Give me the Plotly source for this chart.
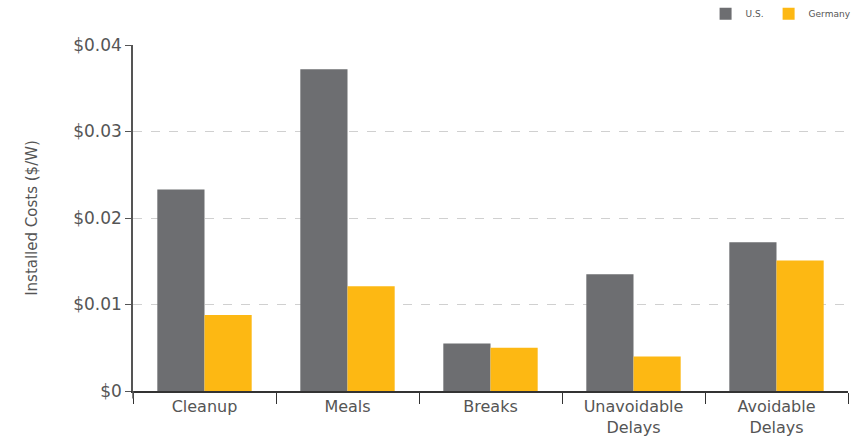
import plotly.graph_objects as go

categories = ["Cleanup", "Meals", "Breaks", "Unavoidable<br>Delays", "Avoidable<br>Delays"]
us_values = [0.0233, 0.0372, 0.0055, 0.0135, 0.0172]
germany_values = [0.0088, 0.0121, 0.0050, 0.0040, 0.0151]
y_ticks = [0, 0.01, 0.02, 0.03, 0.04]
y_tick_labels = ["$0", "$0.01", "$0.02", "$0.03", "$0.04"]

fig = go.Figure()
fig.add_trace(go.Bar(name="U.S.", x=categories, y=us_values,
                     marker=dict(color="#6d6e71", line=dict(width=0))))
fig.add_trace(go.Bar(name="Germany", x=categories, y=germany_values,
                     marker=dict(color="#fdb813", line=dict(width=0))))

fig.update_layout(
    width=859, height=443,
    margin=dict(l=133, r=11, t=45, b=52, autoexpand=False),
    paper_bgcolor="white", plot_bgcolor="white",
    barmode="group", bargap=0.34, bargroupgap=0,
    font=dict(family="DejaVu Sans, sans-serif", color="#555555"),
    legend=dict(orientation="h", x=1.012, xanchor="right", y=1.09, yanchor="middle",
                font=dict(size=9, color="#555555"),
                bgcolor="rgba(0,0,0,0)"),
    xaxis=dict(showline=True, linecolor="#333333", linewidth=1.5,
               ticks="outside", tickson="boundaries", ticklen=11, tickcolor="#333333",
               tickfont=dict(size=16, color="#555555"), showgrid=False),
    yaxis=dict(range=[0, 0.04], tickvals=y_ticks, ticktext=y_tick_labels,
               showline=True, linecolor="#555555", linewidth=1.5,
               ticks="outside", ticklen=6, tickcolor="#555555",
               tickfont=dict(size=17, color="#555555"),
               showgrid=True, gridcolor="#d0d0d0", griddash="dash", gridwidth=1,
               zeroline=False,
               title=dict(text="Installed Costs ($/W)", font=dict(size=15, color="#555555"),
                          standoff=32)),
    shapes=[dict(type="line", xref="paper", yref="paper", x0=0, x1=0, y0=0, y1=-0.022,
                 line=dict(color="#555555", width=1.5))],
)

fig.write_html("out.html")
